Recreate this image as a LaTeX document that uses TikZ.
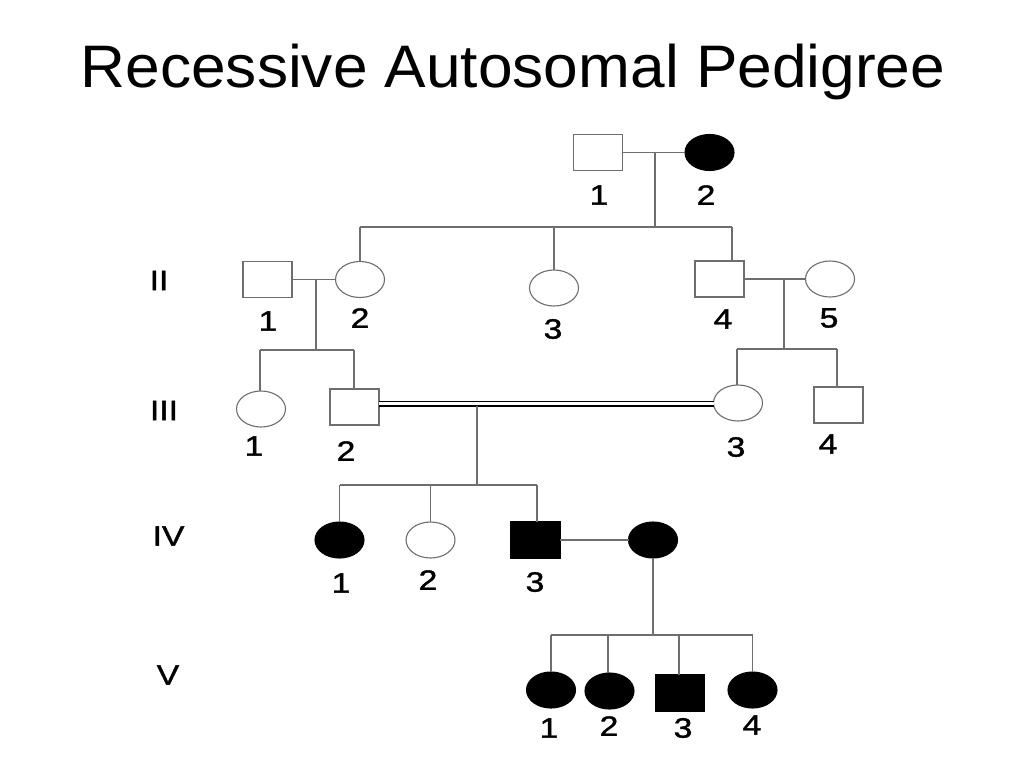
\documentclass[tikz,border=0pt]{standalone}
\usepackage{fontspec}
\setmainfont{Liberation Sans}
\newfontfamily\numfont[FakeBold=1.2]{Liberation Sans}
\usetikzlibrary{shapes.geometric}
\definecolor{linegray}{RGB}{110,110,110}
\begin{document}
\begin{tikzpicture}[x=1pt,y=-1pt,
  line/.style={draw=linegray, line width=1.1pt},
  dline/.style={draw=black, double=white, double distance=3.4pt, line width=1.3pt},
  person/.style={inner sep=0pt, outer sep=0pt, minimum width=49pt, minimum height=36pt, line width=1.1pt},
  male/.style={person, rectangle, draw=linegray, fill=white},
  female/.style={person, ellipse, draw=linegray, fill=white},
  amale/.style={person, rectangle, draw=black, fill=black},
  afemale/.style={person, ellipse, draw=black, fill=black},
  num/.style={font=\numfont\fontsize{28}{28}\selectfont, inner sep=0pt, xscale=1.2},
  gen/.style={font=\numfont\fontsize{28}{28}\selectfont, inner sep=0pt, xscale=1.2},
  title/.style={font=\fontsize{60}{62}\selectfont, inner sep=0pt, anchor=base, xscale=1.037},
]
\useasboundingbox[fill=white] (0,0) rectangle (1024,768);

% title
\node[title] (title) at (513,87) {Recessive Autosomal Pedigree};

% generation labels
\node[gen] (gII) at (159,280.5) {II};
\node[gen] (gIII) at (164,410.5) {III};
\node[gen] (gIV) at (168.5,536) {IV};
\node[gen] (gV) at (168,675) {V};

% Generation I
\node[male] (I1) at (598,152.5) {};
\node[afemale] (I2) at (709.5,152.5) {};
\node[num] (lI1) at (599,195) {1};
\node[num] (lI2) at (706,195) {2};

% Generation II
\node[male] (II1) at (267.5,279.5) {};
\node[female] (II2) at (360,279.5) {};
\node[female] (II3) at (554,288) {};
\node[male] (II4) at (719.5,279) {};
\node[female] (II5) at (830,279) {};
\node[num] (lII1) at (268,321) {1};
\node[num] (lII2) at (360,318) {2};
\node[num] (lII3) at (553,329) {3};
\node[num] (lII4) at (723,319) {4};
\node[num] (lII5) at (829,318) {5};

% Generation III
\node[female] (III1) at (261,409) {};
\node[male] (III2) at (354.5,407) {};
\node[female] (III3) at (738,403) {};
\node[male] (III4) at (838.5,405) {};
\node[num] (lIII1) at (254,446) {1};
\node[num] (lIII2) at (346,451) {2};
\node[num] (lIII3) at (736,447) {3};
\node[num] (lIII4) at (828,444) {4};

% Generation IV
\node[afemale] (IV1) at (339.5,540) {};
\node[female] (IV2) at (430.5,540) {};
\node[amale] (IV3) at (535.5,540) {};
\node[afemale] (IV4) at (653,540) {};
\node[num] (lIV1) at (341,583) {1};
\node[num] (lIV2) at (428,580) {2};
\node[num] (lIV3) at (535,582) {3};

% Generation V
\node[afemale] (V1) at (551,690) {};
\node[afemale] (V2) at (609.5,691) {};
\node[amale] (V3) at (680,693) {};
\node[afemale] (V4) at (752.5,690) {};
\node[num] (lV1) at (549,728) {1};
\node[num] (lV2) at (609,726) {2};
\node[num] (lV3) at (683,728) {3};
\node[num] (lV4) at (752,725) {4};

% coordinates
\coordinate (m1) at (655,152.5);
\coordinate (s1) at (655,227);
\coordinate (s1L) at (360,227);
\coordinate (s1M) at (554,227);
\coordinate (s1R) at (732,227);

\coordinate (m2) at (316,279.5);
\coordinate (s2) at (316,350);
\coordinate (s2L) at (260,350);
\coordinate (s2R) at (354,350);

\coordinate (m3) at (784,279);
\coordinate (s3) at (784,349);
\coordinate (s3L) at (737,349);
\coordinate (s3R) at (837,349);

\coordinate (dl) at (500,403.5);
\coordinate (m4) at (477,405.5);
\coordinate (s4) at (477,485);
\coordinate (s4L) at (339.5,485);
\coordinate (s4M) at (430.5,485);
\coordinate (s4R) at (537,485);

\coordinate (s5) at (653,635);
\coordinate (s5a) at (551,635);
\coordinate (s5b) at (608,635);
\coordinate (s5c) at (679,635);
\coordinate (s5d) at (752.5,635);

% Generation I connectors
\draw[line] (I1.east) -- (I2.west);
\draw[line] (m1) -- (s1);
\draw[line] (s1L) -- (s1R);
\draw[line] (s1L) -- (II2.north);
\draw[line] (s1M) -- (II3.north);
\draw[line] (s1R) -- (s1R |- II4.north);

% Generation II connectors
\draw[line] (II1.east) -- (II2.west);
\draw[line] (m2) -- (s2);
\draw[line] (s2L) -- (s2R);
\draw[line] (s2L) -- (s2L |- III1.north);
\draw[line] (s2R) -- (s2R |- III2.north);

\draw[line] (II4.east) -- (II5.west);
\draw[line] (m3) -- (s3);
\draw[line] (s3L) -- (s3R);
\draw[line] (s3L) -- (s3L |- III3.north);
\draw[line] (s3R) -- (s3R |- III4.north);

% consanguineous mating
\draw[dline] (III2.east |- dl) -- (III3.west |- dl);
\draw[line] (m4) -- (s4);
\draw[line] (s4L) -- (s4R);
\draw[line] (s4L) -- (IV1.north);
\draw[line] (s4M) -- (IV2.north);
\draw[line] (s4R) -- (s4R |- IV3.north);

% Generation IV mating
\draw[line] (IV3.east) -- (IV4.west);
\draw[line] (IV4.south) -- (s5);
\draw[line] (s5a) -- (s5d);
\draw[line] (s5a) -- (V1.north);
\draw[line] (s5b) -- (s5b |- V2.north);
\draw[line] (s5c) -- (s5c |- V3.north);
\draw[line] (s5d) -- (V4.north);
\end{tikzpicture}
\end{document}
